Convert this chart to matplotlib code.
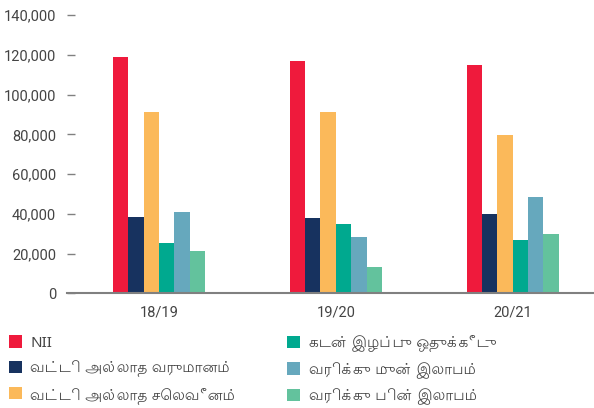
import numpy as np
import matplotlib
matplotlib.use("Agg")
import matplotlib.pyplot as plt
from matplotlib.patches import Patch

# data
years = ["18/19", "19/20", "20/21"]
series = ["NII", "வட்டி அல்லாத வருமானம்", "வட்டி அல்லாத செலவீனம்",
          "கடன் இழப்பு ஒதுக்கீடு", "வரிக்கு முன் இலாபம்", "வரிக்கு பின் இலாபம்"]
nii = [119000, 117000, 115000]
non_int_income = [38500, 38000, 40000]
non_int_expense = [91300, 91300, 79700]
loan_loss = [25400, 35000, 26800]
pbt = [41000, 28400, 48500]
pat = [21300, 13300, 29900]
values = [nii, non_int_income, non_int_expense, loan_loss, pbt, pat]
colors = ["#EF1A3C", "#17325F", "#FBB95A", "#00A98F", "#66A8BD", "#63C29D"]
yticks = [0, 20000, 40000, 60000, 80000, 100000, 120000, 140000]

plt.rcParams["font.family"] = ["Roboto", "DejaVu Sans"]
text_color = "#444444"
legend_family = ["Lohit Tamil", "Noto Sans Tamil", "DejaVu Sans"]

fig = plt.figure(figsize=(5.94, 4.08), dpi=100)
ax = fig.add_axes([0.113, 0.281, 0.887, 0.682])

x = np.arange(len(years))
w = 0.087
for i, (vals, c) in enumerate(zip(values, colors)):
    ax.bar(x + (i - 2.5) * w, vals, width=w, color=c, linewidth=0)

ax.set_xlim(-0.52, 2.46)
ax.set_ylim(0, 140000)
ax.set_yticks(yticks)
ax.set_yticklabels([f"{v:,}" for v in yticks])
ax.set_xticks(x)
ax.set_xticklabels(years)
for s in ["top", "right", "left"]:
    ax.spines[s].set_visible(False)
ax.spines["bottom"].set_color("#808080")
ax.spines["bottom"].set_linewidth(1.5)
ax.tick_params(axis="y", direction="in", length=6, width=1, color="#808080",
               labelsize=10.5, labelcolor=text_color, pad=8)
ax.tick_params(axis="x", length=0, labelsize=10.5, labelcolor=text_color, pad=9)

# legend in two columns
handles = [Patch(facecolor=c, edgecolor="none") for c in colors]
leg_kw = dict(frameon=False, handlelength=0.85, handleheight=0.85, handletextpad=0.55,
              labelspacing=0.62, prop={"family": legend_family, "size": 11},
              labelcolor=text_color, borderaxespad=0, borderpad=0)
fig.legend(handles[:3], series[:3], loc="upper left",
           bbox_to_anchor=(0.015, 0.178), **leg_kw)
fig.legend(handles[3:], series[3:], loc="upper left",
           bbox_to_anchor=(0.484, 0.178), **leg_kw)

fig.savefig("out.png", dpi=100)
